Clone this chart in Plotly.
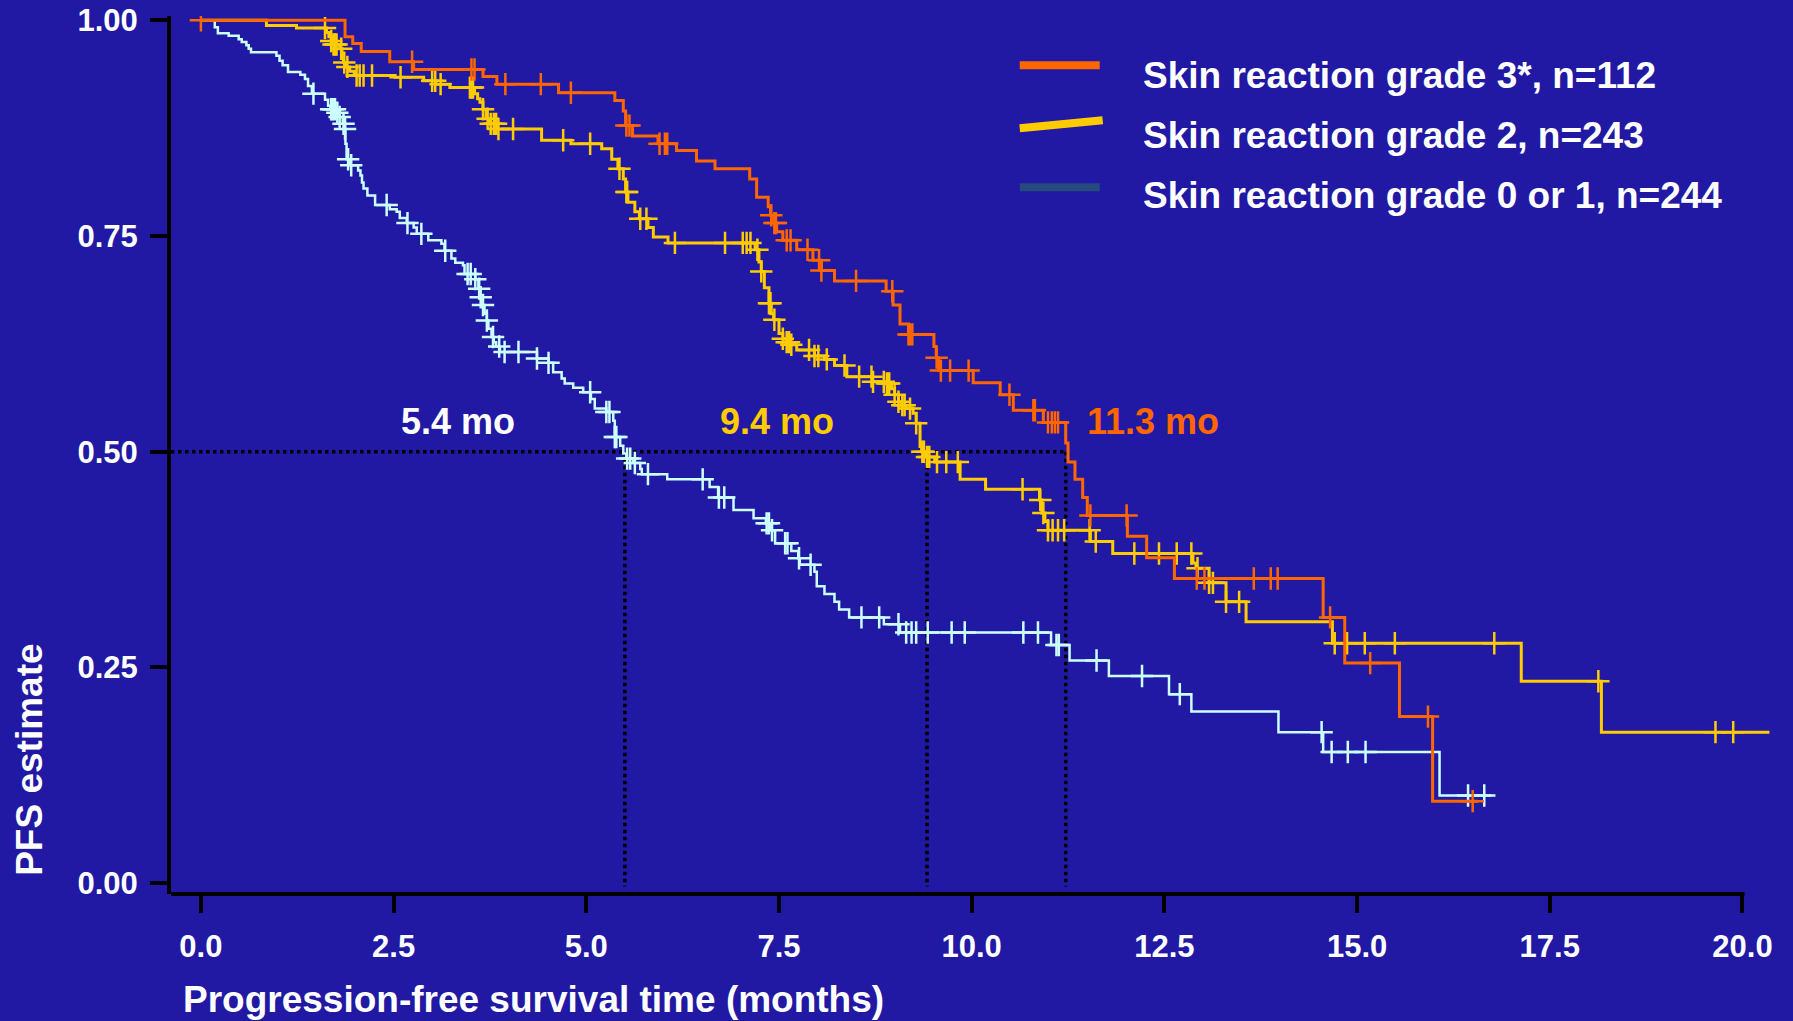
import plotly.graph_objects as go

# ---------------- data ----------------
# Skin reaction grade 3*, n=112  (orange)
g3_times = [1.87, 1.97, 2.08, 2.45, 2.76, 3.66, 3.84, 4.64, 5.37, 5.48, 5.51, 5.60, 5.93, 6.17, 6.43,
            6.67, 7.12, 7.21, 7.36, 7.39, 7.43, 7.47, 7.55, 7.73, 7.94, 8.05, 8.22, 8.89, 8.98, 9.07,
            9.18, 9.51, 9.54, 9.57, 10.02, 10.37, 10.54, 10.93, 11.22, 11.25, 11.34, 11.44, 11.50,
            12.02, 12.27, 12.63, 14.56, 14.84, 15.55, 15.98]
g3_surv = [0.981, 0.973, 0.964, 0.952, 0.943, 0.935, 0.926, 0.916, 0.907, 0.895, 0.878, 0.866, 0.857,
           0.849, 0.837, 0.828, 0.816, 0.795, 0.784, 0.774, 0.765, 0.755, 0.745, 0.734, 0.722, 0.710,
           0.698, 0.686, 0.670, 0.648, 0.636, 0.622, 0.609, 0.594, 0.580, 0.566, 0.548, 0.534, 0.510,
           0.488, 0.468, 0.447, 0.426, 0.402, 0.377, 0.353, 0.308, 0.255, 0.193, 0.095]
g3_end = 16.57
g3_censor = [0.0, 2.74, 3.51, 3.55, 3.95, 4.41, 4.80, 5.52, 5.56, 5.95, 6.02, 6.05, 7.40, 7.44, 7.46,
             7.60, 7.65, 7.87, 8.02, 8.05, 8.50, 8.97, 9.18, 9.20, 9.23, 9.545, 9.60, 9.72, 9.96,
             10.49, 10.80, 10.82, 10.99, 11.04, 11.08, 11.12, 11.54, 12.01, 12.92, 13.02, 13.66,
             13.88, 13.97, 14.65, 15.17, 15.92, 16.50]

# Skin reaction grade 2, n=243  (yellow)
g2_times = [0.85, 1.24, 1.63, 1.66, 1.69, 1.72, 1.80, 1.83, 1.85, 1.88, 1.93, 1.99, 2.52, 2.89, 3.05,
            3.23, 3.55, 3.59, 3.62, 3.66, 3.70, 3.74, 3.84, 4.42, 4.80, 5.20, 5.33, 5.41, 5.48, 5.51,
            5.54, 5.63, 5.69, 5.80, 5.87, 6.06, 7.19, 7.24, 7.27, 7.31, 7.37, 7.40, 7.43, 7.50, 7.55,
            7.59, 7.64, 7.73, 7.96, 8.09, 8.22, 8.38, 8.71, 8.87, 8.96, 9.00, 9.05, 9.09, 9.15, 9.24,
            9.28, 9.33, 9.35, 9.41, 9.52, 9.85, 10.18, 10.88, 10.91, 10.95, 10.99, 11.54, 11.83,
            12.87, 12.91, 13.08, 13.30, 13.56, 14.68, 17.13, 18.17]
g2_surv = [0.994, 0.991, 0.986, 0.981, 0.976, 0.972, 0.967, 0.961, 0.951, 0.946, 0.941, 0.936, 0.934,
           0.930, 0.926, 0.922, 0.915, 0.909, 0.905, 0.897, 0.886, 0.880, 0.874, 0.861, 0.857, 0.851,
           0.839, 0.828, 0.816, 0.801, 0.789, 0.778, 0.770, 0.760, 0.749, 0.742, 0.734, 0.720, 0.709,
           0.690, 0.672, 0.660, 0.653, 0.637, 0.631, 0.627, 0.624, 0.618, 0.611, 0.607, 0.600, 0.587,
           0.581, 0.579, 0.573, 0.566, 0.558, 0.554, 0.550, 0.5445, 0.533, 0.506, 0.500, 0.494, 0.488,
           0.468, 0.4565, 0.444, 0.429, 0.419, 0.409, 0.396, 0.382, 0.371, 0.365, 0.348, 0.326, 0.303,
           0.278, 0.234, 0.175]
g2_end = 20.35
g2_censor = [1.61, 1.69, 1.72, 1.74, 1.76, 1.82, 1.86, 1.90, 2.02, 2.06, 2.11, 2.22, 2.59, 3.00, 3.04,
             3.11, 3.49, 3.51, 3.53, 3.66, 3.72, 3.76, 3.80, 3.83, 3.86, 4.05, 4.70, 5.05, 5.43, 5.52,
             5.53, 5.70, 5.78, 6.15, 6.80, 7.03, 7.08, 7.13, 7.22, 7.27, 7.37, 7.39, 7.44, 7.55, 7.60,
             7.63, 7.66, 7.89, 7.96, 8.01, 8.12, 8.35, 8.54, 8.70, 8.72, 8.86, 8.90, 8.93, 9.00, 9.05,
             9.10, 9.13, 9.20, 9.28, 9.36, 9.38, 9.42, 9.45, 9.55, 9.67, 9.82, 10.66, 10.89, 10.93,
             10.99, 11.05, 11.12, 11.20, 11.53, 11.61, 12.11, 12.43, 12.66, 12.85, 12.93, 13.08, 13.13,
             13.30, 13.47, 14.71, 14.87, 15.10, 15.49, 16.78, 18.13, 19.65, 19.88]

# Skin reaction grade 0 or 1, n=244  (light cyan)
g01_times = [0.18, 0.22, 0.36, 0.49, 0.53, 0.59, 0.62, 0.65, 0.98, 1.02, 1.06, 1.13, 1.29, 1.35, 1.39,
             1.44, 1.61, 1.65, 1.68, 1.76, 1.80, 1.84, 1.87, 1.875, 1.89, 1.93, 2.04, 2.07, 2.09, 2.11,
             2.16, 2.26, 2.45, 2.54, 2.58, 2.67, 2.76, 2.80, 2.95, 3.12, 3.16, 3.25, 3.30, 3.40, 3.42,
             3.56, 3.60, 3.62, 3.64, 3.68, 3.71, 3.73, 3.77, 3.80, 3.83, 3.88, 4.36, 4.51, 4.57, 4.68,
             4.72, 4.83, 4.96, 5.06, 5.11, 5.26, 5.35, 5.37, 5.44, 5.48, 5.52, 5.61, 5.70, 5.72, 6.05,
             6.60, 6.71, 6.91, 7.17, 7.33, 7.40, 7.45, 7.66, 7.75, 7.77, 7.96, 7.99, 8.09, 8.22, 8.28,
             8.41, 8.86, 9.07, 11.03, 11.27, 11.78, 12.56, 12.85, 13.98, 14.56, 16.07]
g01_surv = [0.992, 0.985, 0.982, 0.978, 0.975, 0.971, 0.967, 0.963, 0.959, 0.953, 0.948, 0.940, 0.937,
            0.932, 0.924, 0.915, 0.908, 0.901, 0.897, 0.893, 0.888, 0.880, 0.874, 0.857, 0.839, 0.832,
            0.826, 0.820, 0.812, 0.805, 0.797, 0.786, 0.781, 0.778, 0.771, 0.765, 0.760, 0.7525, 0.745,
            0.741, 0.733, 0.724, 0.719, 0.716, 0.706, 0.700, 0.689, 0.679, 0.670, 0.660, 0.652, 0.6425,
            0.633, 0.627, 0.622, 0.6155, 0.608, 0.603, 0.592, 0.585, 0.579, 0.574, 0.569, 0.561, 0.550,
            0.546, 0.536, 0.517, 0.507, 0.498, 0.492, 0.487, 0.480, 0.474, 0.468, 0.459, 0.447, 0.4325,
            0.423, 0.417, 0.409, 0.394, 0.385, 0.3765, 0.369, 0.361, 0.344, 0.335, 0.326, 0.317, 0.308,
            0.300, 0.2905, 0.276, 0.258, 0.240, 0.219, 0.199, 0.175, 0.152, 0.1016]
g01_end = 16.74
g01_censor = [1.46, 1.69, 1.71, 1.74, 1.77, 1.80, 1.85, 1.87, 1.91, 1.95, 2.41, 2.68, 2.86, 3.17, 3.46,
              3.50, 3.56, 3.61, 3.63, 3.66, 3.71, 3.79, 3.87, 3.94, 4.12, 4.36, 4.51, 5.05, 5.26, 5.30,
              5.37, 5.39, 5.53, 5.57, 5.63, 5.80, 6.51, 6.72, 6.79, 7.34, 7.37, 7.41, 7.58, 7.61, 7.76,
              7.91, 8.57, 8.80, 9.05, 9.15, 9.22, 9.28, 9.43, 9.74, 9.91, 10.67, 10.86, 11.10, 11.13,
              11.62, 12.21, 12.70, 14.54, 14.67, 14.88, 15.11, 16.44, 16.65]

# median lines (x where each curve crosses 0.5)
median_x = [5.50, 9.42, 11.22]
median_labels = ["5.4 mo", "9.4 mo", "11.3 mo"]

legend_labels = ["Skin reaction grade 3*, n=112",
                 "Skin reaction grade 2, n=243",
                 "Skin reaction grade 0 or 1, n=244"]

x_ticks = [0.0, 2.5, 5.0, 7.5, 10.0, 12.5, 15.0, 17.5, 20.0]
y_ticks = [0.00, 0.25, 0.50, 0.75, 1.00]

# ---------------- style ----------------
BG = "#2119A3"
ORANGE = "#FF6600"
YELLOW = "#FFCC00"
CYAN = "#CCFFFF"
LEG3 = "#254A7E"
FONT = "Liberation Sans, Arial, sans-serif"

W, H = 1793, 1021
ML, MR, MT, MB = 171, 11.5, 15.7, 126.7
PW, PH = W - ML - MR, H - MT - MB
XR = [-0.388, 20.5]
YR = [-0.0126, 1.005]


def px(X):
    return (X - ML) / PW


def py(Y):
    return (H - MB - Y) / PH


def step_value(times, surv, t):
    v = 1.0
    for ti, vi in zip(times, surv):
        if ti <= t:
            v = vi
    return v


fig = go.Figure()

# dotted median guide lines
fig.add_trace(go.Scatter(x=[XR[0], median_x[-1]], y=[0.5, 0.5], mode="lines",
                         line=dict(color="black", width=3.5, dash="dot"),
                         hoverinfo="skip", showlegend=False))
for mx in median_x:
    fig.add_trace(go.Scatter(x=[mx, mx], y=[0.5, -0.004], mode="lines",
                             line=dict(color="black", width=3.5, dash="dot"),
                             hoverinfo="skip", showlegend=False))

groups = [
    (g01_times, g01_surv, g01_end, g01_censor, CYAN, 2.5, legend_labels[2]),
    (g2_times, g2_surv, g2_end, g2_censor, YELLOW, 3, legend_labels[1]),
    (g3_times, g3_surv, g3_end, g3_censor, ORANGE, 3, legend_labels[0]),
]
for times, surv, end, cens, col, lw, name in groups:
    xs = [0.0] + times + [end]
    ys = [1.0] + surv + [surv[-1]]
    fig.add_trace(go.Scatter(x=xs, y=ys, mode="lines", line=dict(color=col, width=lw, shape="hv"),
                             name=name, showlegend=False))
    fig.add_trace(go.Scatter(x=cens, y=[step_value(times, surv, c) for c in cens], mode="markers",
                             marker=dict(symbol="cross-thin", size=16, color=col,
                                         line=dict(color=col, width=2.5)),
                             showlegend=False, hoverinfo="skip"))

shapes = []
# x-axis line (ends at 20.0)
shapes.append(dict(type="line", xref="paper", yref="paper", x0=0, x1=px(1745), y0=0, y1=0,
                   line=dict(color="black", width=4)))
# manual legend line samples
shapes.append(dict(type="line", xref="paper", yref="paper", x0=px(1020), x1=px(1100),
                   y0=py(65), y1=py(65), line=dict(color=ORANGE, width=8)))
shapes.append(dict(type="line", xref="paper", yref="paper", x0=px(1020), x1=px(1103),
                   y0=py(128), y1=py(120), line=dict(color=YELLOW, width=8)))
shapes.append(dict(type="line", xref="paper", yref="paper", x0=px(1020), x1=px(1100),
                   y0=py(187), y1=py(187), line=dict(color=LEG3, width=8)))

annotations = []
for lab, ycen in zip(legend_labels, [75, 135, 195]):
    annotations.append(dict(text=lab, xref="paper", yref="paper", x=px(1141), y=py(ycen),
                            xanchor="left", yanchor="middle", showarrow=False,
                            font=dict(family=FONT, size=37, color="white", weight="bold")))
for lab, col, xl in zip(median_labels, ["white", YELLOW, ORANGE], [399, 718, 1085]):
    annotations.append(dict(text=lab, xref="paper", yref="paper", x=px(xl), y=py(421),
                            xanchor="left", yanchor="middle", showarrow=False,
                            font=dict(family=FONT, size=36, color=col, weight="bold")))
annotations.append(dict(text="PFS estimate", xref="paper", yref="paper", x=px(30), y=py(760),
                        xanchor="center", yanchor="middle", textangle=-90, showarrow=False,
                        font=dict(family=FONT, size=37, color="white", weight="bold")))
annotations.append(dict(text="Progression-free survival time (months)", xref="paper", yref="paper",
                        x=px(181), y=py(1000), xanchor="left", yanchor="middle", showarrow=False,
                        font=dict(family=FONT, size=37, color="white", weight="bold")))

fig.update_layout(
    template=None,
    width=W, height=H, autosize=False,
    margin=dict(l=ML, r=MR, t=MT, b=MB, pad=0, autoexpand=False),
    paper_bgcolor=BG, plot_bgcolor=BG,
    shapes=shapes, annotations=annotations,
    showlegend=False,
    xaxis=dict(range=XR, showgrid=False, zeroline=False, showline=False, automargin=False,
               ticks="outside", ticklen=18, tickwidth=4, tickcolor="black",
               tickvals=x_ticks, ticktext=[f"{v:.1f}" for v in x_ticks],
               tickfont=dict(family=FONT, size=31, color="white", weight="bold"),
               ticklabelstandoff=7),
    yaxis=dict(range=YR, showgrid=False, zeroline=False, showline=True, linewidth=4, automargin=False,
               linecolor="black", ticks="outside", ticklen=17, tickwidth=4, tickcolor="black",
               tickvals=y_ticks, ticktext=[f"{v:.2f}" for v in y_ticks],
               tickfont=dict(family=FONT, size=31, color="white", weight="bold"),
               ticklabelstandoff=6),
)

fig.write_html("out.html", config={"displayModeBar": False},
               post_script="document.body.style.margin='0';")
